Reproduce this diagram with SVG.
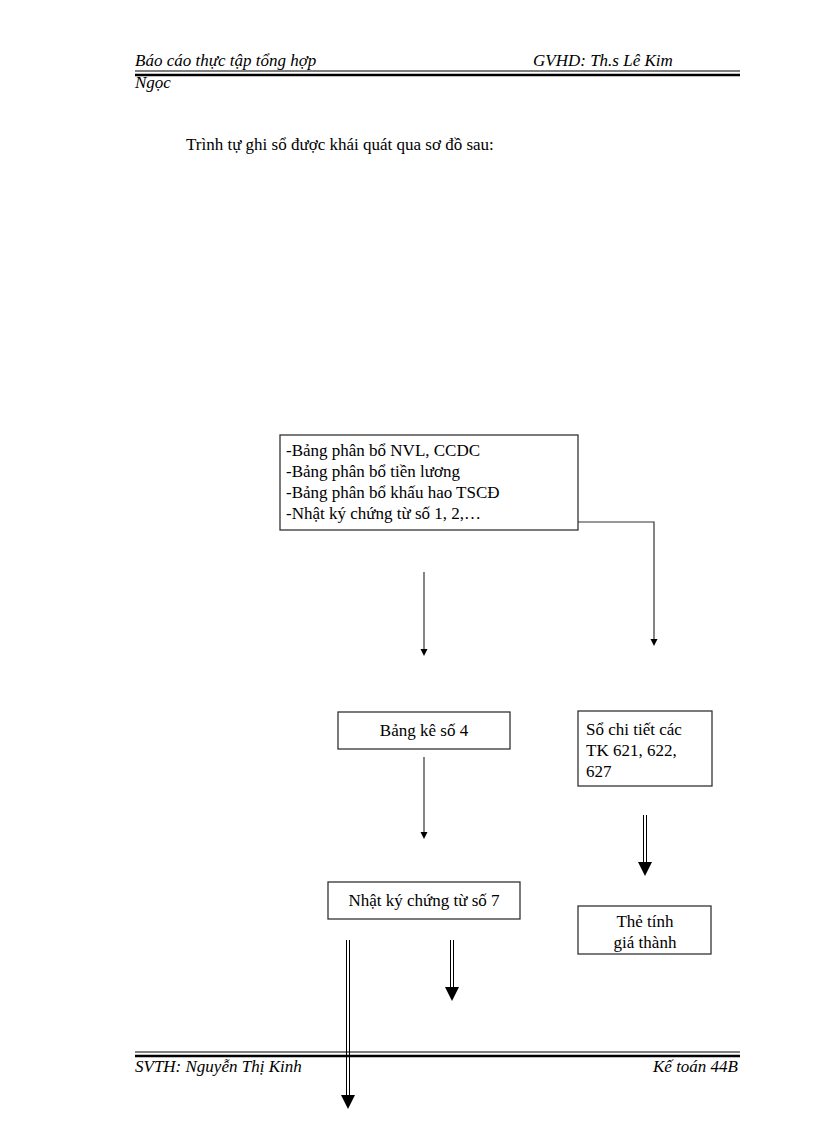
<svg xmlns="http://www.w3.org/2000/svg" width="816" height="1123" viewBox="0 0 816 1123">
<style>
.t{font-family:"Liberation Serif",serif;font-size:17px;fill:#000}
.h{font-family:"Liberation Serif",serif;font-size:17px;font-style:italic;fill:#000}
.b{fill:#fff;stroke:#333;stroke-width:1.3}
.c{stroke:#333;stroke-width:1.2;fill:none}
.d{stroke:#000;stroke-width:1;fill:none}
</style>
<rect width="816" height="1123" fill="#fff"/>
<g id="header">
<text class="h" x="135" y="66">Báo cáo thực tập tổng hợp</text>
<text class="h" x="533" y="66">GVHD: Th.s Lê Kim</text>
<text class="h" x="135" y="88">Ngọc</text>
<line x1="135" y1="71" x2="740" y2="71" stroke="#000" stroke-width="1"/>
<line x1="135" y1="75" x2="740" y2="75" stroke="#000" stroke-width="2.5"/>
</g>
<text class="t" x="186" y="150">Trình tự ghi  sổ được khái  quát qua sơ đồ sau:</text>
<g id="n1"><rect class="b" x="280" y="435" width="298" height="95"/>
<text class="t" x="286" y="456">-Bảng phân bổ NVL, CCDC</text>
<text class="t" x="286" y="477">-Bảng phân bổ tiền lương</text>
<text class="t" x="286" y="498">-Bảng phân bổ khấu hao TSCĐ</text>
<text class="t" x="286" y="519">-Nhật ký chứng từ số 1, 2,…</text></g>
<g id="n2"><rect class="b" x="338" y="712" width="172" height="37"/><text class="t" x="424" y="736" text-anchor="middle">Bảng kê số 4</text></g>
<g id="n3"><rect class="b" x="578" y="711" width="134" height="75"/>
<text class="t" x="586" y="735">Sổ chi tiết  các</text><text class="t" x="586" y="756">TK 621, 622,</text><text class="t" x="586" y="777">627</text></g>
<g id="n4"><rect class="b" x="328" y="882" width="192" height="37"/><text class="t" x="424" y="906" text-anchor="middle">Nhật ký chứng từ số 7</text></g>
<g id="n5"><rect class="b" x="578" y="906" width="133" height="48"/>
<text class="t" x="645" y="927" text-anchor="middle">Thẻ tính</text><text class="t" x="645" y="948" text-anchor="middle">giá thành</text></g>
<g id="connectors">
<line class="c" x1="424" y1="572" x2="424" y2="650"/><path d="M420.5,649 L427.5,649 L424,656 Z"/>
<polyline class="c" points="578,522 654,522 654,640"/><path d="M650.5,639 L657.5,639 L654,646 Z"/>
<line class="c" x1="424" y1="757" x2="424" y2="833"/><path d="M420.5,832 L427.5,832 L424,839 Z"/>
<line class="d" x1="643.5" y1="815" x2="643.5" y2="865"/><line class="d" x1="646.5" y1="815" x2="646.5" y2="865"/>
<path d="M638,862 L652,862 L645,876 Z"/>
<line class="d" x1="450.5" y1="940" x2="450.5" y2="990"/><line class="d" x1="453.5" y1="940" x2="453.5" y2="990"/>
<path d="M445,987 L459,987 L452,1001 Z"/>
<line class="d" x1="346.5" y1="940" x2="346.5" y2="1098"/><line class="d" x1="349.5" y1="940" x2="349.5" y2="1098"/>
<path d="M341,1095 L355,1095 L348,1109 Z"/>
</g>
<g id="footer">
<line x1="135" y1="1052" x2="740" y2="1052" stroke="#000" stroke-width="1"/>
<line x1="135" y1="1056" x2="740" y2="1056" stroke="#000" stroke-width="2.5"/>
<text class="h" x="135" y="1072">SVTH: Nguyễn Thị Kinh</text>
<text class="h" x="738" y="1072" text-anchor="end">Kế toán 44B</text>
</g>
</svg>
